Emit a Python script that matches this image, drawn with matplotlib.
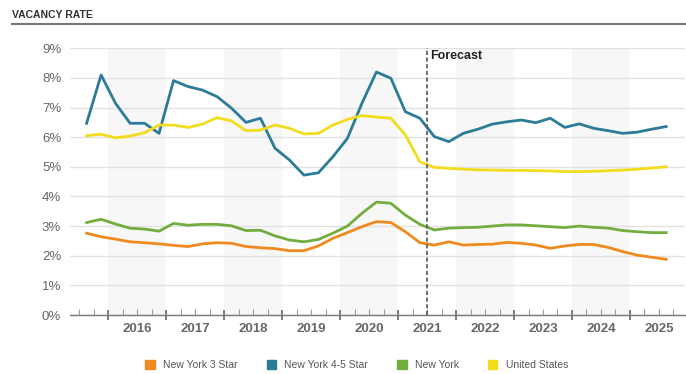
import matplotlib.pyplot as plt
import numpy as np

plt.rcParams['font.family'] = ['Liberation Sans', 'DejaVu Sans']

# Quarterly vacancy rate (%), 2015 Q3 through 2025 Q3
start_year = 2015
start_quarter = 3
ny_3_star = [2.76, 2.64, 2.56, 2.47, 2.44, 2.40, 2.35, 2.31, 2.40, 2.44,
             2.42, 2.31, 2.27, 2.24, 2.17, 2.17, 2.33, 2.59, 2.78, 2.98,
             3.15, 3.12, 2.81, 2.44, 2.36, 2.47, 2.36, 2.38, 2.39, 2.45,
             2.42, 2.36, 2.25, 2.33, 2.38, 2.38, 2.28, 2.14, 2.02, 1.95,
             1.88]
ny_45_star = [6.47, 8.10, 7.14, 6.47, 6.47, 6.13, 7.91, 7.71, 7.59, 7.37,
              6.98, 6.50, 6.64, 5.63, 5.23, 4.72, 4.80, 5.34, 5.96, 7.14,
              8.20, 7.99, 6.86, 6.64, 6.02, 5.85, 6.13, 6.27, 6.44, 6.52,
              6.58, 6.49, 6.64, 6.33, 6.45, 6.30, 6.22, 6.13, 6.17, 6.27,
              6.36]
new_york = [3.12, 3.23, 3.07, 2.93, 2.90, 2.83, 3.09, 3.03, 3.06, 3.06,
            3.01, 2.85, 2.86, 2.67, 2.53, 2.47, 2.55, 2.76, 3.00, 3.43,
            3.81, 3.77, 3.37, 3.06, 2.87, 2.93, 2.95, 2.96, 3.00, 3.04,
            3.04, 3.01, 2.98, 2.95, 3.00, 2.96, 2.93, 2.85, 2.81, 2.78,
            2.78]
united_states = [6.05, 6.10, 5.98, 6.04, 6.15, 6.41, 6.41, 6.33, 6.44, 6.66,
                 6.55, 6.22, 6.24, 6.41, 6.30, 6.11, 6.13, 6.41, 6.60, 6.73,
                 6.68, 6.64, 6.08, 5.17, 4.98, 4.95, 4.92, 4.90, 4.89, 4.88,
                 4.88, 4.87, 4.86, 4.84, 4.84, 4.85, 4.87, 4.89, 4.92, 4.96,
                 5.00]
years = list(range(2016, 2026))
forecast_start = 2021.5

series = [
    ('New York 3 Star', ny_3_star, '#f08a1e'),
    ('New York 4-5 Star', ny_45_star, '#2c7b98'),
    ('New York', new_york, '#72ad3f'),
    ('United States', united_states, '#f3dc1c'),
]

# each quarter sits in the middle of its quarter slot
n = len(ny_3_star)
q_idx = np.arange(n) + (start_quarter - 1)
x = start_year + (q_idx + 0.5) / 4

fig = plt.figure(figsize=(6.86, 3.74), dpi=100)
ax = fig.add_axes([69.5 / 686, 1 - 315 / 374, (685 - 69.5) / 686, (315 - 48.3) / 374])

# alternating year bands
for y in years:
    if y % 2 == 0:
        ax.axvspan(y, y + 1, color='#f7f7f7', zorder=0, lw=0)

for lbl, vals, col in series:
    ax.plot(x, vals, color=col, lw=2, label=lbl, zorder=3)

ax.axvline(forecast_start, color='#555555', ls=(0, (2.5, 1.5)), lw=1.2, zorder=4)
ax.text(forecast_start + 0.06, 8.75, 'Forecast', fontsize=9, fontweight='bold',
        color='#222222', va='center', ha='left')

ax.set_xlim(2015.33, 2025.95)
ax.set_ylim(0, 9)
ax.set_yticks(range(0, 10))
ax.set_yticklabels([f'{v}%' for v in range(0, 10)])
ax.yaxis.grid(True, color='#e2e2e2', lw=1)
ax.set_axisbelow(True)

# year boundaries as major ticks, quarters as minor, labels mid-year
ax.set_xticks(years)
ax.set_xticklabels([])
ax.set_xticks(np.arange(2015.5, 2026, 0.25), minor=True)
for y in years:
    ax.text(y + 0.5, -0.47, str(y), ha='center', va='center', fontsize=9.5,
            color='#666666', fontweight='bold')
ax.tick_params(axis='x', which='major', length=7, width=1.2, color='#666666',
               direction='inout')
ax.tick_params(axis='x', which='minor', length=4, width=0.8, color='#999999',
               direction='in')
ax.tick_params(axis='y', length=0, labelsize=9.5, labelcolor='#666666', pad=6)

for s in ['top', 'right', 'left']:
    ax.spines[s].set_visible(False)
ax.spines['bottom'].set_color('#777777')
ax.spines['bottom'].set_linewidth(1)

# header
fig.text(12 / 686, 1 - 15 / 374, 'VACANCY RATE', fontsize=7.5, fontweight='bold',
         color='#333333', va='center', ha='left')
fig.add_artist(plt.Line2D([12 / 686, 1], [1 - 23.5 / 374] * 2, color='#777777',
                          lw=1.5, transform=fig.transFigure))

# legend along the bottom
handles = [plt.Rectangle((0, 0), 1, 1, color=c) for _, _, c in series]
fig.legend(handles, [s[0] for s in series], loc='center', ncol=4,
           bbox_to_anchor=(0.52, 1 - 365 / 374), frameon=False, fontsize=7.5,
           handlelength=0.9, handleheight=0.9, columnspacing=2.8,
           labelcolor='#555555')

fig.savefig('out.png', dpi=100)
